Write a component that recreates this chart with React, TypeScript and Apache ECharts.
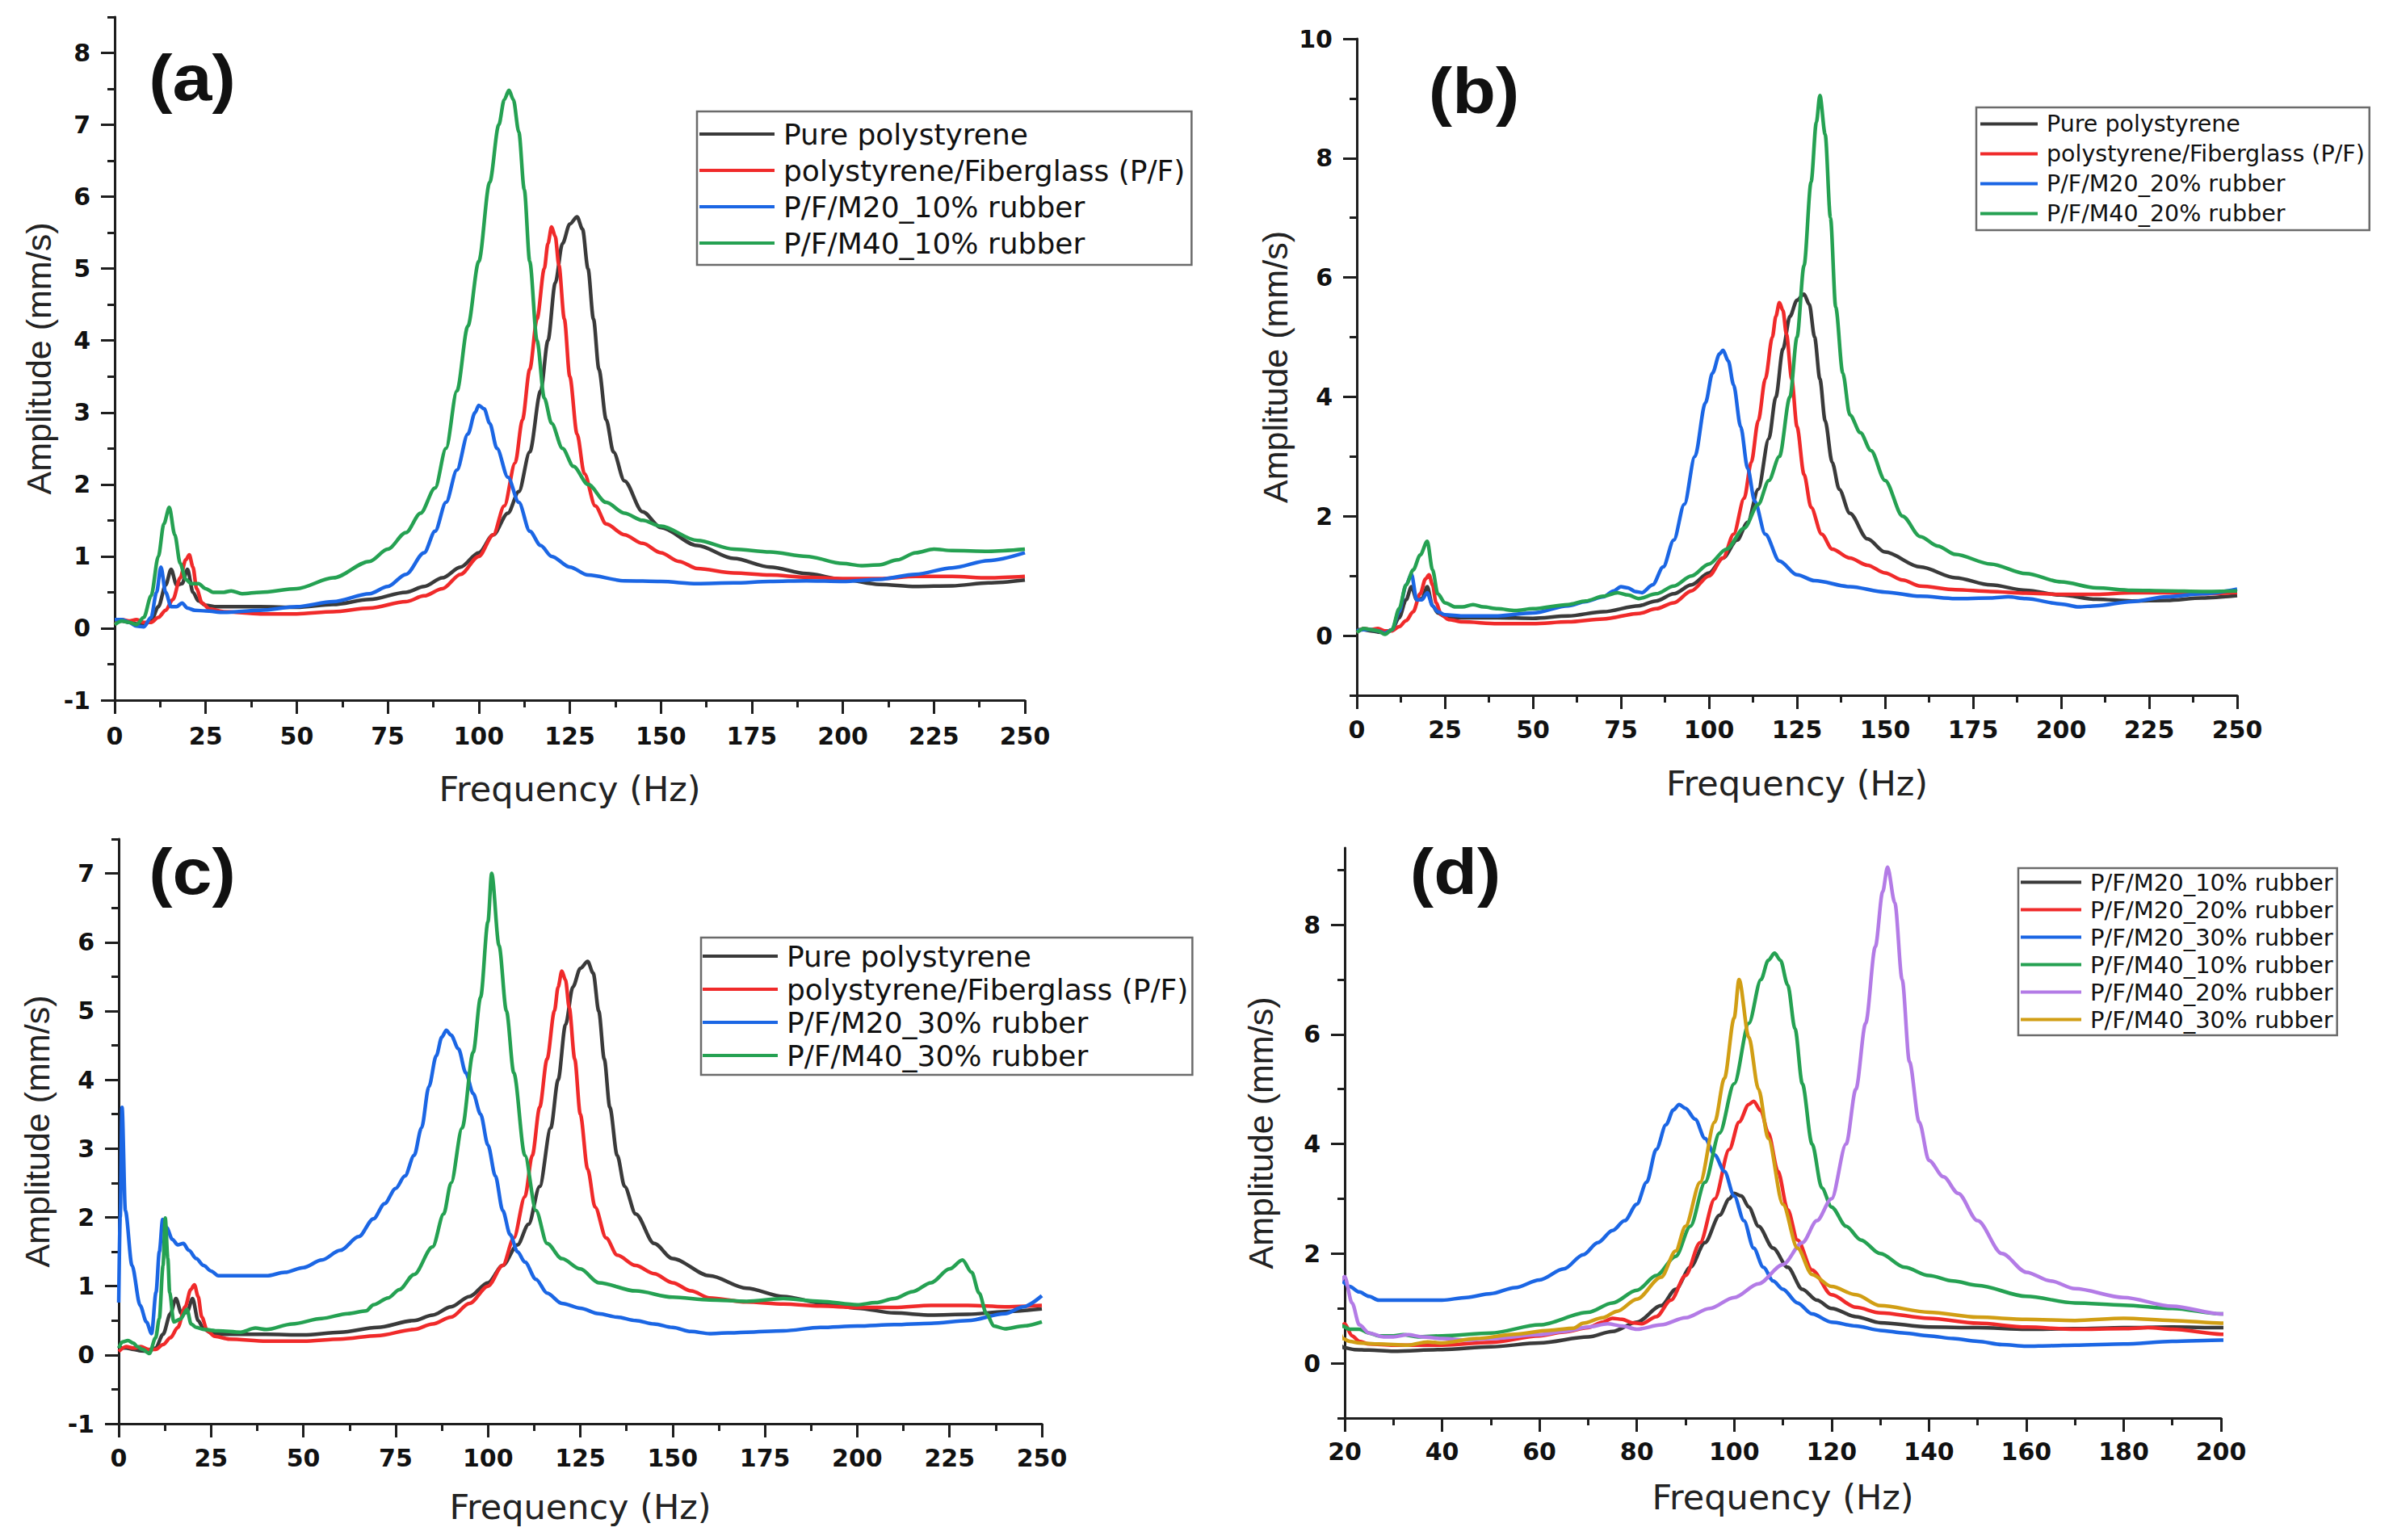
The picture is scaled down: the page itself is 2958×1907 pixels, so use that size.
import React, { useEffect, useRef } from "react";
import * as echarts from "echarts";

// ---------- data (Frequency in Hz, Amplitude in mm/s) ----------
const pureHz = [0, 2, 4, 6, 8, 10, 12, 14, 15.5, 17, 18.5, 20, 21.5, 23, 25, 28, 32, 40, 50, 60, 70, 80, 85, 90, 95, 100, 104, 108, 111, 114, 117, 119, 121, 123, 125, 127, 128.5, 130, 131.5, 133, 135, 137, 140, 145, 150, 160, 170, 180, 190, 200, 210, 220, 230, 240, 250];
const pureAmp = [0.1, 0.1, 0.08, 0.06, 0.05, 0.1, 0.3, 0.6, 0.82, 0.6, 0.62, 0.82, 0.5, 0.38, 0.32, 0.3, 0.3, 0.3, 0.29, 0.33, 0.4, 0.5, 0.58, 0.7, 0.85, 1.05, 1.3, 1.6, 1.9, 2.45, 3.3, 4.0, 4.8, 5.35, 5.62, 5.72, 5.55, 5.0, 4.3, 3.6, 2.9, 2.45, 2.05, 1.62, 1.4, 1.15, 0.97, 0.85, 0.76, 0.68, 0.61, 0.58, 0.59, 0.63, 0.67];

const pfHz = [0, 2, 4, 6, 8, 10, 12, 14, 16, 18, 19.5, 20.5, 21.5, 22.5, 24, 26, 30, 40, 50, 60, 70, 80, 85, 90, 95, 100, 104, 107, 110, 112, 114, 116, 118, 119, 120, 121, 122, 123.5, 125, 127, 129, 132, 135, 140, 145, 150, 155, 160, 170, 180, 190, 200, 210, 220, 230, 240, 250];
const pfAmp = [0.05, 0.12, 0.1, 0.12, 0.08, 0.08, 0.15, 0.25, 0.4, 0.7, 0.95, 1.02, 0.85, 0.55, 0.35, 0.27, 0.23, 0.2, 0.2, 0.23, 0.28, 0.37, 0.45, 0.55, 0.75, 1.0, 1.3, 1.7, 2.3, 2.9, 3.6, 4.3, 5.0, 5.35, 5.58, 5.45, 5.05, 4.3, 3.5, 2.7, 2.15, 1.7, 1.45, 1.3, 1.18, 1.05, 0.93, 0.83, 0.77, 0.74, 0.71, 0.69, 0.69, 0.72, 0.72, 0.7, 0.72];

const m20r10Hz = [0, 2, 4, 6, 8, 10, 11.5, 12.7, 14, 15.5, 17, 18.5, 20, 22, 25, 30, 40, 50, 60, 70, 75, 80, 85, 88, 91, 94, 97, 99, 100, 101.5, 103, 105, 108, 111, 114, 117, 120, 125, 130, 140, 150, 160, 170, 180, 190, 200, 210, 220, 230, 240, 250];
const m20r10Amp = [0.12, 0.12, 0.08, 0.03, 0.02, 0.15, 0.5, 0.85, 0.5, 0.3, 0.3, 0.35, 0.28, 0.25, 0.24, 0.22, 0.25, 0.3, 0.37, 0.48, 0.58, 0.75, 1.05, 1.35, 1.75, 2.2, 2.7, 3.0, 3.1, 3.05, 2.85, 2.5, 2.1, 1.75, 1.35, 1.15, 1.0, 0.85, 0.74, 0.66, 0.65, 0.62, 0.63, 0.65, 0.66, 0.65, 0.68, 0.75, 0.84, 0.94, 1.05];

const m40r10Hz = [0, 2, 4, 6, 8, 10, 12, 13.5, 15, 16.5, 18, 19.5, 21, 23, 25, 27, 30, 32, 35, 40, 50, 60, 70, 75, 80, 84, 88, 91, 94, 97, 100, 103, 105.5, 107, 108.3, 109.5, 111, 112.5, 114, 116, 118, 120, 123, 126, 130, 135, 140, 145, 150, 160, 170, 180, 190, 200, 205, 210, 215, 220, 225, 230, 240, 250];
const m40r10Amp = [0.05, 0.1, 0.08, 0.05, 0.15, 0.45, 1.0, 1.45, 1.68, 1.3, 0.9, 0.68, 0.62, 0.62, 0.55, 0.5, 0.5, 0.52, 0.48, 0.5, 0.55, 0.7, 0.93, 1.1, 1.33, 1.6, 1.95, 2.5, 3.3, 4.2, 5.1, 6.2, 7.0, 7.35, 7.48, 7.35, 6.9, 6.1, 5.1, 4.0, 3.2, 2.85, 2.5, 2.25, 2.0, 1.75, 1.6, 1.5, 1.42, 1.22, 1.1, 1.06, 1.0, 0.9, 0.87, 0.88, 0.95, 1.05, 1.1, 1.08, 1.07, 1.1];

const m20r20Hz = [0, 2, 4, 6, 8, 10, 12, 14, 15.5, 17, 18.5, 20, 21.5, 23, 25, 30, 40, 50, 60, 65, 70, 73, 75, 77, 79, 81, 84, 87, 90, 93, 96, 99, 101, 103, 104, 105.5, 107, 109, 111, 113, 116, 120, 125, 130, 140, 150, 160, 170, 180, 185, 190, 200, 205, 210, 220, 230, 240, 250];
const m20r20Amp = [0.08, 0.1, 0.1, 0.08, 0.04, 0.1, 0.4, 0.85, 1.03, 0.6, 0.6, 0.72, 0.5, 0.4, 0.35, 0.33, 0.33, 0.38, 0.5, 0.57, 0.65, 0.75, 0.82, 0.8, 0.74, 0.72, 0.85, 1.15, 1.6, 2.2, 3.0, 3.9, 4.4, 4.72, 4.78, 4.6, 4.2, 3.5, 2.8, 2.25, 1.7, 1.25, 1.02, 0.92, 0.82, 0.73, 0.66, 0.62, 0.63, 0.65, 0.62, 0.53, 0.48, 0.5, 0.57, 0.65, 0.7, 0.78];

const m40r20Hz = [0, 2, 4, 6, 8, 10, 12, 14, 16, 18, 20, 21.5, 23, 25, 28, 30, 33, 36, 40, 45, 50, 60, 65, 70, 74, 77, 80, 85, 90, 95, 100, 105, 110, 114, 117, 120, 123, 125, 127, 129, 130.5, 131.5, 133, 134.5, 136, 138, 140, 143, 146, 150, 155, 160, 165, 170, 180, 190, 200, 210, 220, 230, 240, 250];
const m40r20Amp = [0.05, 0.12, 0.1, 0.08, 0.02, 0.1, 0.45, 0.85, 1.1, 1.35, 1.58, 1.1, 0.7, 0.55, 0.48, 0.48, 0.52, 0.48, 0.45, 0.42, 0.45, 0.52, 0.58, 0.66, 0.72, 0.68, 0.62, 0.7, 0.83, 1.0, 1.2, 1.45, 1.8, 2.2, 2.6, 3.0, 4.0, 5.0, 6.2, 7.6, 8.6, 9.05, 8.4, 7.0, 5.5, 4.4, 3.7, 3.4, 3.1, 2.6, 2.0, 1.66, 1.5, 1.36, 1.2, 1.04, 0.9, 0.8, 0.76, 0.75, 0.74, 0.75];

const m20r30Hz = [0, 0.4, 0.9, 1.8, 3.6, 5.8, 7.5, 8.9, 10.1, 11, 11.9, 13, 14.5, 16, 17.5, 19, 21, 23, 25, 27, 30, 35, 40, 45, 50, 55, 60, 65, 69, 72, 75, 77.5, 80, 82, 84, 86, 87.5, 88.7, 90, 92, 94, 96, 98, 100, 102, 104, 106, 108, 110, 113, 116, 120, 125, 130, 135, 140, 145, 150, 155, 160, 165, 170, 180, 190, 200, 210, 220, 230, 240, 245, 250];
const m20r30Amp = [0.76, 2.0, 3.6, 2.1, 1.3, 0.72, 0.48, 0.31, 0.91, 1.5, 1.97, 1.85, 1.68, 1.6, 1.62, 1.52, 1.4, 1.3, 1.22, 1.15, 1.15, 1.15, 1.15, 1.2, 1.27, 1.38, 1.52, 1.72, 1.98, 2.2, 2.42, 2.6, 2.9, 3.3, 3.9, 4.35, 4.62, 4.72, 4.65, 4.45, 4.1, 3.8, 3.5, 3.05, 2.6, 2.1, 1.75, 1.5, 1.35, 1.1, 0.9, 0.75, 0.68, 0.6, 0.55, 0.5, 0.45, 0.4, 0.34, 0.31, 0.32, 0.33, 0.35, 0.4, 0.42, 0.44, 0.46, 0.5, 0.6, 0.7, 0.86];

const m40r30Hz = [0, 1, 2.5, 4, 5, 6.5, 8.3, 10, 11, 12, 12.6, 13.3, 13.8, 14.9, 16.7, 18.5, 19.6, 21, 23, 27, 33, 37, 40, 47, 55, 62, 67, 69, 73, 76, 80, 85, 88, 90, 93, 96, 98, 100, 101, 103, 105, 107, 110, 113, 116, 120, 125, 130, 140, 150, 160, 170, 180, 190, 200, 205, 210, 215, 220, 225, 228.5, 231, 233, 235, 237, 240, 245, 250];
const m40r30Amp = [0.1, 0.19, 0.21, 0.17, 0.12, 0.08, 0.02, 0.25, 0.53, 1.3, 1.99, 1.4, 0.91, 0.48, 0.52, 0.66, 0.45, 0.4, 0.37, 0.35, 0.33, 0.39, 0.37, 0.45, 0.53, 0.6, 0.64, 0.73, 0.83, 0.95, 1.17, 1.57, 2.05, 2.5, 3.3, 4.4, 5.2, 6.3, 7.0, 5.95, 5.0, 4.1, 2.9, 2.1, 1.62, 1.4, 1.25, 1.05, 0.93, 0.84, 0.8, 0.78, 0.82, 0.78, 0.73, 0.76, 0.82, 0.92, 1.05, 1.25, 1.38, 1.2, 0.9, 0.6, 0.42, 0.38, 0.42, 0.48];

// ---------- tick values ----------
const x250Major = [0, 25, 50, 75, 100, 125, 150, 175, 200, 225, 250];
const x250Minor = [12.5, 37.5, 62.5, 87.5, 112.5, 137.5, 162.5, 187.5, 212.5, 237.5];
const x200Major = [20, 40, 60, 80, 100, 120, 140, 160, 180, 200];
const x200Minor = [30, 50, 70, 90, 110, 130, 150, 170, 190];
const yaMajor = [-1, 0, 1, 2, 3, 4, 5, 6, 7, 8];
const yaMinor = [-0.5, 0.5, 1.5, 2.5, 3.5, 4.5, 5.5, 6.5, 7.5, 8.5];
const ybMajor = [0, 2, 4, 6, 8, 10];
const ybMinor = [-1, 1, 3, 5, 7, 9];
const ycMajor = [-1, 0, 1, 2, 3, 4, 5, 6, 7];
const ycMinor = [-0.5, 0.5, 1.5, 2.5, 3.5, 4.5, 5.5, 6.5, 7.5];
const ydMajor = [0, 2, 4, 6, 8];
const ydMinor = [-1, 1, 3, 5, 7, 9];

// ---------- names & colours ----------
const N_PURE = "Pure polystyrene";
const N_PF = "polystyrene/Fiberglass (P/F)";
const N_M20_10 = "P/F/M20_10% rubber";
const N_M20_20 = "P/F/M20_20% rubber";
const N_M20_30 = "P/F/M20_30% rubber";
const N_M40_10 = "P/F/M40_10% rubber";
const N_M40_20 = "P/F/M40_20% rubber";
const N_M40_30 = "P/F/M40_30% rubber";

const BLACK = "#3a3a3a";
const RED = "#f02a2a";
const BLUE = "#1b66e4";
const GREEN = "#25a152";
const PURPLE = "#b37be6";
const GOLD = "#d19e14";

const FONT = "'DejaVu Sans', 'Liberation Sans', Arial, sans-serif";
const YFONT = "'Liberation Sans', Arial, sans-serif";
const AX = "#1e1e1e";

const pts = (hz: number[], amp: number[]) => hz.map((h, i) => [h, amp[i]]);

const D = {
  pure: pts(pureHz, pureAmp),
  pf: pts(pfHz, pfAmp),
  m20r10: pts(m20r10Hz, m20r10Amp),
  m40r10: pts(m40r10Hz, m40r10Amp),
  m20r20: pts(m20r20Hz, m20r20Amp),
  m40r20: pts(m40r20Hz, m40r20Amp),
  m20r30: pts(m20r30Hz, m20r30Amp),
  m40r30: pts(m40r30Hz, m40r30Amp),
};

type Line = { name: string; data: number[][]; color: string };
type Panel = {
  label: string;
  labelPos: [number, number];
  box: [number, number, number, number];
  xr: [number, number];
  yr: [number, number];
  xMajor: number[];
  xMinor: number[];
  yMajor: number[];
  yMinor: number[];
  xNameGap: number;
  yNameGap: number;
  xLabelMargin: number;
  lines: Line[];
  legend: {
    left: number;
    top: number;
    fontSize: number;
    itemGap: number;
    itemWidth: number;
    padding: number[];
  };
};

const panels: Panel[] = [
  {
    label: "(a)",
    labelPos: [238, 96],
    box: [142, 21, 1127, 846],
    xr: [0, 250],
    yr: [-1, 8.5],
    xMajor: x250Major,
    xMinor: x250Minor,
    yMajor: yaMajor,
    yMinor: yaMinor,
    xNameGap: 88,
    yNameGap: 73,
    xLabelMargin: 29,
    lines: [
      { name: N_PURE, data: D.pure, color: BLACK },
      { name: N_PF, data: D.pf, color: RED },
      { name: N_M20_10, data: D.m20r10, color: BLUE },
      { name: N_M40_10, data: D.m40r10, color: GREEN },
    ],
    legend: { left: 863, top: 138, fontSize: 36, itemGap: 9, itemWidth: 93, padding: [10, 8, 9, 3] },
  },
  {
    label: "(b)",
    labelPos: [1825, 112],
    box: [1680, 48, 1090, 813],
    xr: [0, 250],
    yr: [-1, 10],
    xMajor: x250Major,
    xMinor: x250Minor,
    yMajor: ybMajor,
    yMinor: ybMinor,
    xNameGap: 87,
    yNameGap: 80,
    xLabelMargin: 27,
    lines: [
      { name: N_PURE, data: D.pure, color: BLACK },
      { name: N_PF, data: D.pf, color: RED },
      { name: N_M20_20, data: D.m20r20, color: BLUE },
      { name: N_M40_20, data: D.m40r20, color: GREEN },
    ],
    legend: { left: 2447, top: 133, fontSize: 28.5, itemGap: 8, itemWidth: 71, padding: [6, 6, 6, 5] },
  },
  {
    label: "(c)",
    labelPos: [238, 1079],
    box: [147, 1039, 1143, 724],
    xr: [0, 250],
    yr: [-1, 7.5],
    xMajor: x250Major,
    xMinor: x250Minor,
    yMajor: ycMajor,
    yMinor: ycMinor,
    xNameGap: 81,
    yNameGap: 80,
    xLabelMargin: 27,
    lines: [
      { name: N_PURE, data: D.pure, color: BLACK },
      { name: N_PF, data: D.pf, color: RED },
      { name: N_M20_30, data: D.m20r30, color: BLUE },
      { name: N_M40_30, data: D.m40r30, color: GREEN },
    ],
    legend: { left: 868, top: 1161, fontSize: 36, itemGap: 5, itemWidth: 93, padding: [5, 5, 6, 2] },
  },
  {
    label: "(d)",
    labelPos: [1802, 1079],
    box: [1665, 1050, 1085, 706],
    xr: [20, 200],
    yr: [-1, 9.4],
    xMajor: x200Major,
    xMinor: x200Minor,
    yMajor: ydMajor,
    yMinor: ydMinor,
    xNameGap: 76,
    yNameGap: 83,
    xLabelMargin: 26,
    lines: [
      { name: N_M20_10, data: D.m20r10, color: BLACK },
      { name: N_M20_20, data: D.m20r20, color: RED },
      { name: N_M20_30, data: D.m20r30, color: BLUE },
      { name: N_M40_10, data: D.m40r10, color: GREEN },
      { name: N_M40_20, data: D.m40r20, color: PURPLE },
      { name: N_M40_30, data: D.m40r30, color: GOLD },
    ],
    legend: { left: 2499, top: 1075, fontSize: 29, itemGap: 5, itemWidth: 75, padding: [3, 5, 5, 3] },
  },
];

function buildOption() {
  const grid: any[] = [];
  const xAxis: any[] = [];
  const yAxis: any[] = [];
  const series: any[] = [];
  const legend: any[] = [];
  const graphic: any[] = [];

  const tickLabel = (margin: number, values: number[]) => ({
    customValues: values,
    margin,
    fontFamily: FONT,
    fontWeight: "bold",
    fontSize: 30,
    color: "#111",
  });

  panels.forEach((p, gi) => {
    grid.push({ left: p.box[0], top: p.box[1], width: p.box[2], height: p.box[3], containLabel: false });
    const ai = xAxis.length;

    xAxis.push({
      type: "value",
      gridIndex: gi,
      min: p.xr[0],
      max: p.xr[1],
      position: "bottom",
      name: "Frequency (Hz)",
      nameLocation: "middle",
      nameGap: p.xNameGap,
      nameTextStyle: { fontFamily: FONT, fontSize: 43, color: "#222" },
      axisLine: { show: true, onZero: false, lineStyle: { color: AX, width: 3 } },
      axisTick: { show: true, inside: false, length: 17, customValues: p.xMajor, lineStyle: { color: AX, width: 3 } },
      axisLabel: tickLabel(p.xLabelMargin, p.xMajor),
      splitLine: { show: false },
    });
    xAxis.push({
      type: "value",
      gridIndex: gi,
      min: p.xr[0],
      max: p.xr[1],
      position: "bottom",
      axisLine: { show: false, onZero: false },
      axisTick: { show: true, inside: false, length: 9, customValues: p.xMinor, lineStyle: { color: AX, width: 3 } },
      axisLabel: { show: false },
      splitLine: { show: false },
    });

    yAxis.push({
      type: "value",
      gridIndex: gi,
      min: p.yr[0],
      max: p.yr[1],
      position: "left",
      name: "Amplitude (mm/s)",
      nameLocation: "middle",
      nameGap: p.yNameGap,
      nameTextStyle: { fontFamily: YFONT, fontSize: 43, color: "#222" },
      axisLine: { show: true, onZero: false, lineStyle: { color: AX, width: 3 } },
      axisTick: { show: true, inside: false, length: 17, customValues: p.yMajor, lineStyle: { color: AX, width: 3 } },
      axisLabel: tickLabel(30, p.yMajor),
      splitLine: { show: false },
    });
    yAxis.push({
      type: "value",
      gridIndex: gi,
      min: p.yr[0],
      max: p.yr[1],
      position: "left",
      axisLine: { show: false, onZero: false },
      axisTick: { show: true, inside: false, length: 9, customValues: p.yMinor, lineStyle: { color: AX, width: 3 } },
      axisLabel: { show: false },
      splitLine: { show: false },
    });

    p.lines.forEach((l) => {
      series.push({
        type: "line",
        name: l.name,
        data: l.data,
        xAxisIndex: ai,
        yAxisIndex: ai,
        showSymbol: false,
        symbol: "none",
        smooth: 0.3,
        smoothMonotone: "x",
        clip: true,
        lineStyle: { color: l.color, width: 4.5 },
        itemStyle: { color: l.color },
      });
    });

    const lg = p.legend;
    legend.push({
      orient: "vertical",
      align: "left",
      left: lg.left,
      top: lg.top,
      padding: lg.padding,
      itemGap: lg.itemGap,
      itemWidth: lg.itemWidth,
      itemHeight: 4,
      icon: "rect",
      selectedMode: false,
      borderColor: "#6b6b6b",
      borderWidth: 2.5,
      backgroundColor: "#fff",
      textStyle: { fontFamily: FONT, fontSize: lg.fontSize, lineHeight: lg.fontSize, color: "#111", padding: [0, 0, 0, 6] },
      data: p.lines.map((l) => ({ name: l.name, icon: "rect", itemStyle: { color: l.color } })),
    });

    graphic.push({
      type: "text",
      x: p.labelPos[0],
      y: p.labelPos[1],
      scaleX: 1.1,
      scaleY: 1,
      style: {
        text: p.label,
        fontFamily: YFONT,
        fontWeight: "bold",
        fontSize: 80,
        fill: "#111",
        align: "center",
        verticalAlign: "middle",
        textAlign: "center",
        textVerticalAlign: "middle",
      },
    });
  });

  return { animation: false, backgroundColor: "#fff", grid, xAxis, yAxis, series, legend, graphic };
}

export default function App() {
  const ref = useRef<HTMLDivElement>(null);
  useEffect(() => {
    if (!ref.current) return;
    const chart = echarts.init(ref.current, null, { renderer: "svg", width: 2958, height: 1907 });
    chart.setOption(buildOption() as any);
    return () => chart.dispose();
  }, []);
  return (
    <div
      ref={ref}
      style={{ position: "fixed", left: 0, top: 0, width: 2958, height: 1907, background: "#fff" }}
    />
  );
}
